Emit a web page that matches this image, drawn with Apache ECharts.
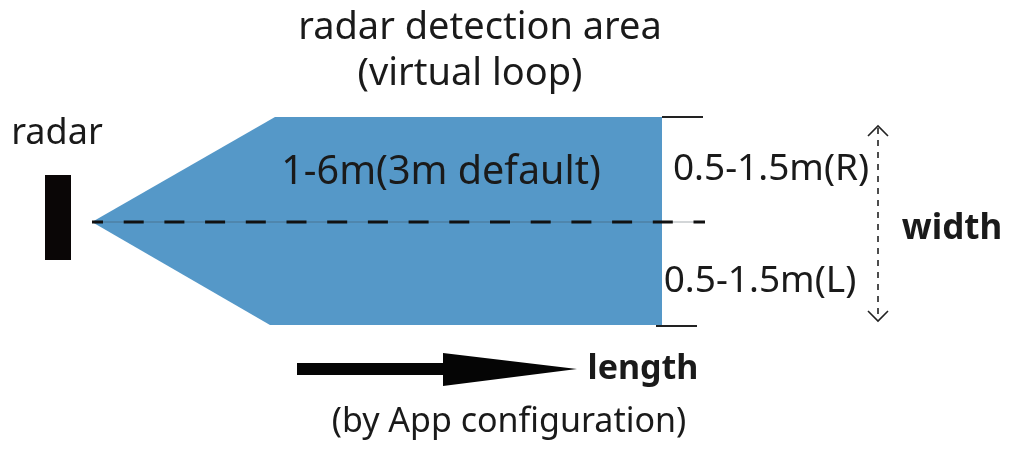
<!DOCTYPE html>
<html><head><meta charset="utf-8">
<script src="https://cdn.jsdelivr.net/npm/echarts@6/dist/echarts.min.js"></script>
<style>html,body{margin:0;padding:0;background:#fff}#c{width:1009px;height:451px}</style>
</head><body><div id="c"></div>
<script>
// Diagram geometry (diagram units = a 1009 x 451 plane)
const detectionZone = [[92,222],[275,117],[662,117],[662,325],[270,325]];
const centerLine = [[92,222],[705,222]];
const radarBody = [[45,175],[71,260]];
const edgeTicks = [[[662,117],[703,117]],[[656,326],[697,326]]];
const widthArrow = [[878,126],[878,321]];
const lengthArrow = [[297,363],[443,363],[443,353],[577,369],[443,386],[443,375],[297,375]];
const labelTexts = ['radar','radar detection area','(virtual loop)','1-6m(3m default)','0.5-1.5m(R)','0.5-1.5m(L)','width','length','(by App configuration)'];
const labelAnchors = [[57,134],[480,28],[470,74],[441,173],[771,169],[760,281],[952,229],[643,369],[509,422]];

const FONT = '"Noto Sans", "Open Sans", sans-serif';
const labelStyle = [
  {size:36, weight:'normal'},
  {size:38, weight:'normal'},
  {size:38, weight:'normal'},
  {size:39.5, weight:'normal'},
  {size:37, weight:'normal'},
  {size:37, weight:'normal'},
  {size:35, weight:'bold'},
  {size:34, weight:'bold'},
  {size:34, weight:'normal'}
];

const chart = echarts.init(document.getElementById('c'));
function pts(api, arr){ return arr.map(p => api.coord(p)); }

chart.setOption({
  animation: false,
  backgroundColor: '#ffffff',
  grid: {left:0, right:0, top:0, bottom:0},
  xAxis: {type:'value', min:0, max:1009, show:false},
  yAxis: {type:'value', min:0, max:451, inverse:true, show:false},
  series: [
    { // detection area polygon
      type:'custom', coordinateSystem:'cartesian2d', data:[0], silent:true,
      renderItem:(params, api) => ({
        type:'polygon', shape:{points: pts(api, detectionZone)},
        style:{fill:'#5598c8'}
      })
    },
    { // radar body
      type:'custom', coordinateSystem:'cartesian2d', data:[0], silent:true,
      renderItem:(params, api) => {
        const a = api.coord(radarBody[0]), b = api.coord(radarBody[1]);
        return {type:'rect', shape:{x:a[0], y:a[1], width:b[0]-a[0], height:b[1]-a[1]}, style:{fill:'#0a0606'}};
      }
    },
    { // center line: thin line + dashes
      type:'custom', coordinateSystem:'cartesian2d', data:[0], silent:true,
      renderItem:(params, api) => {
        const p = pts(api, centerLine);
        return {type:'group', children:[
          {type:'line', shape:{x1:p[0][0], y1:p[0][1], x2:p[1][0], y2:p[1][1]}, style:{stroke:'rgba(60,70,80,0.45)', lineWidth:1}},
          {type:'line', shape:{x1:p[0][0], y1:p[0][1], x2:p[1][0], y2:p[1][1]}, style:{stroke:'#111', lineWidth:3, lineDash:[20,20.7], lineDashOffset:9}}
        ]};
      }
    },
    { // edge ticks at right side
      type:'custom', coordinateSystem:'cartesian2d', data:[0], silent:true,
      renderItem:(params, api) => ({
        type:'group', children: edgeTicks.map(seg => {
          const p = pts(api, seg);
          return {type:'line', shape:{x1:p[0][0], y1:p[0][1], x2:p[1][0], y2:p[1][1]}, style:{stroke:'#222', lineWidth:2}};
        })
      })
    },
    { // width arrow (dotted, open heads)
      type:'custom', coordinateSystem:'cartesian2d', data:[0], silent:true,
      renderItem:(params, api) => {
        const p = pts(api, widthArrow);
        const h = 10;
        return {type:'group', children:[
          {type:'line', shape:{x1:p[0][0], y1:p[0][1]+2, x2:p[1][0], y2:p[1][1]-2}, style:{stroke:'#222', lineWidth:1.6, lineDash:[6,6]}},
          {type:'polyline', shape:{points:[[p[0][0]-h,p[0][1]+h],[p[0][0],p[0][1]],[p[0][0]+h,p[0][1]+h]]}, style:{stroke:'#222', lineWidth:1.6, fill:null}},
          {type:'polyline', shape:{points:[[p[1][0]-h,p[1][1]-h],[p[1][0],p[1][1]],[p[1][0]+h,p[1][1]-h]]}, style:{stroke:'#222', lineWidth:1.6, fill:null}}
        ]};
      }
    },
    { // length arrow
      type:'custom', coordinateSystem:'cartesian2d', data:[0], silent:true,
      renderItem:(params, api) => ({
        type:'polygon', shape:{points: pts(api, lengthArrow)}, style:{fill:'#050505'}
      })
    },
    { // labels
      type:'custom', coordinateSystem:'cartesian2d', silent:true,
      data: labelAnchors.map((a,i) => [a[0], a[1], i]),
      renderItem:(params, api) => {
        const i = api.value(2);
        const c = api.coord([api.value(0), api.value(1)]);
        const s = labelStyle[i];
        return {type:'text', x:c[0], y:c[1], style:{
          text: labelTexts[i], fill:'#1a1a1a', font: s.weight + ' ' + s.size + 'px ' + FONT,
          align:'center', verticalAlign:'middle'
        }};
      }
    }
  ]
});
</script>
</body></html>
